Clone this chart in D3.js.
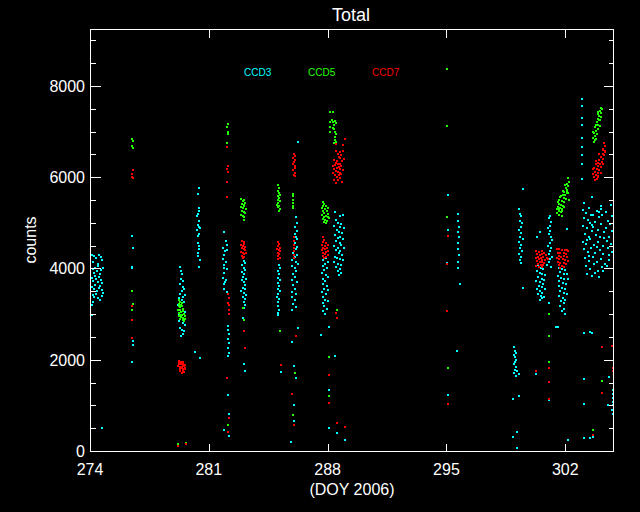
<!DOCTYPE html>
<html><head><meta charset="utf-8">
<script src="https://cdn.jsdelivr.net/npm/d3@7"></script>
<style>html,body{margin:0;padding:0;background:#000;}svg{display:block;}</style>
</head><body>
<script>
const title = "Total";
const xLabel = "(DOY 2006)";
const yLabel = "counts";
const xTicks = [274, 281, 288, 295, 302];
const yTicks = [0, 2000, 4000, 6000, 8000];
const yMinorTicks = [500,1000,1500,2500,3000,3500,4500,5000,5500,6500,7000,7500,8500,9000];
const seriesNames = ["CCD3", "CCD5", "CCD7"];
const seriesColors = ["#00ffff", "#22ff00", "#ff0000"];

// CCD3 (cyan)
const ccd3 = [
[274.12,4300],[274.18,4150],[274.25,4280],[274.35,4230],[274.45,4100],[274.55,4300],[274.62,4250],[274.70,4180],
[274.15,3980],[274.22,3900],[274.30,4020],[274.40,3950],[274.50,4050],[274.58,3880],[274.66,3960],[274.74,4000],
[274.12,3800],[274.20,3720],[274.28,3840],[274.36,3760],[274.46,3700],[274.54,3820],[274.64,3740],[274.72,3680],
[274.14,3600],[274.24,3550],[274.32,3640],[274.42,3500],[274.52,3580],[274.60,3620],[274.70,3520],[274.76,3460],
[274.16,3420],[274.26,3380],[274.38,3450],[274.48,3350],[274.58,3300],[274.68,3400],[274.20,3260],[274.10,3200],[274.10,2990],[274.71,515],
[276.5,4720],[276.55,4460],[276.5,4040],[276.5,4000],[276.55,2420],[276.55,2330],[276.5,1940],
[279.3,4030],[279.35,3950],[279.42,3880],[279.38,3780],[279.5,3720],[279.3,3650],[279.45,3600],[279.55,3560],[279.4,3500],[279.32,3440],
[279.5,3380],[279.58,3420],[279.25,3350],[279.42,3300],[279.55,3260],[279.2,3200],[279.3,3150],[279.48,3100],[279.58,3050],[279.22,2980],
[279.35,2950],[279.5,2900],[279.25,2840],[279.45,2800],[279.6,2760],[279.3,2700],[279.4,2660],[279.55,2620],[279.5,2570],[279.35,2530],
[280.19,2160],[280.48,2030],[279.18,120],
[280.4,5770],[280.35,5630],[280.45,5320],[280.4,5260],[280.38,5200],[280.3,5150],[280.45,5030],[280.35,4950],[280.4,4900],[280.5,4880],
[280.32,4850],[280.4,4760],[280.38,4720],[280.35,4560],[280.42,4500],[280.45,4420],[280.38,4350],[280.35,4270],[280.48,4180],[280.4,4030],
[281.9,4790],[282.0,4600],[282.05,4520],[281.85,4440],[281.95,4380],[282.08,4400],[281.9,4300],[281.85,4200],[282.0,4150],[281.92,4080],
[281.88,4000],[282.05,3980],[281.9,3900],[281.85,3800],[282.0,3750],[281.95,3700],[281.88,3650],[281.92,3550],[282.05,3480],
[282.15,2750],[282.15,2650],[282.2,2560],[282.15,2450],[282.2,2360],[282.15,2250],[282.2,2150],[282.15,2090],
[282.15,1220],[282.2,800],[281.9,450],[282.2,320],
[283.05,4170],[283.12,4120],[282.95,4080],[283.08,4020],[283.15,3960],[282.98,3920],[283.1,3880],[283.02,3820],[283.18,3780],[282.95,3740],
[283.08,3700],[283.12,3640],[283.0,3580],[283.15,3540],[282.92,3500],[283.08,3460],[283.18,3420],[283.0,3380],[283.12,3330],[283.05,3270],
[283.15,3200],[283.05,3140],[283.0,2920],[283.1,1900],[283.13,1750],
[285.12,4070],[285.2,4000],[285.05,3950],[285.15,3880],[285.1,3800],[285.22,3740],[285.05,3680],[285.15,3620],[285.08,3560],[285.2,3500],
[285.1,3440],[285.02,3380],[285.15,3330],[285.1,3260],[285.05,3180],[285.12,3100],[285.08,3030],[285.1,2970],[285.25,1730],
[286.15,5120],[286.2,5000],[286.1,4920],[286.18,4820],[286.05,4760],[286.15,4700],[286.22,4640],[286.1,4560],[286.2,4480],[286.12,4420],
[285.95,4340],[286.2,4300],[286.05,4250],[285.92,4180],[286.15,4150],[286.25,4100],[285.9,4050],[286.05,4000],[286.15,3950],[285.95,3880],
[286.1,3820],[285.9,3750],[286.2,3700],[285.98,3640],[286.05,3560],[285.88,3480],[286.15,3450],[285.92,3380],[286.05,3300],[285.95,3220],
[286.12,3150],[285.9,3080],
[286.25,6780],[286.25,2700],[285.9,2380],[286.0,1870],[286.15,1610],[286.0,1000],[286.02,650],[285.85,190],
[288.45,5230],[288.7,5150],[288.9,5180],[288.5,5060],[288.6,5000],[288.8,4980],[288.4,4940],[288.7,4900],[288.95,4880],[288.55,4840],
[288.65,4800],[288.85,4780],[288.45,4740],[288.75,4700],[288.6,4660],[288.9,4640],[288.5,4600],[288.7,4560],[288.8,4520],[288.4,4500],
[288.6,4460],[288.95,4440],[288.5,4400],[288.75,4380],[288.65,4340],[288.85,4300],[288.45,4260],[288.55,4220],[288.7,4200],[288.9,4180],
[288.4,4140],[288.6,4100],[288.8,4080],[288.5,4040],[288.7,3990],[288.6,3940],[288.8,3900],[288.65,3860],
[287.9,4240],[287.75,4180],[288.0,4150],[287.85,4100],[287.7,4050],[287.95,4000],[287.8,3960],[287.65,3900],[287.9,3860],[288.05,3820],
[287.75,3780],[287.85,3720],[287.7,3660],[287.95,3620],[287.8,3560],[288.0,3520],[287.68,3480],[287.9,3440],[287.75,3380],[287.85,3320],
[288.0,3280],[287.7,3240],[287.8,3180],[287.95,3120],[287.75,3060],[287.85,3010],
[288.1,2710],[287.6,2540],[288.45,2080],[288.1,1330],[288.1,500],[288.55,390],[289.0,240],
[295.09,5600],[295.09,4850],[295.03,4110],[295.68,5200],[295.7,5050],[295.72,4920],[295.68,4800],[295.72,4680],[295.7,4560],[295.68,4420],
[295.72,4300],[295.7,4150],[295.68,4020],[295.8,3670],[295.62,2200],[295.09,1220],
[299.3,5310],[299.35,5200],[299.4,5150],[299.32,5050],[299.45,5000],[299.38,4920],[299.3,4850],[299.42,4780],[299.35,4700],[299.48,4650],
[299.3,4580],[299.4,4520],[299.35,4440],[299.45,4380],[299.3,4320],[299.4,4250],[299.35,4180],[299.42,4130],[299.5,5750],[299.5,3580],
[299.0,2270],[299.05,2200],[299.1,2150],[298.95,2100],[299.02,2050],[299.12,2000],[299.05,1950],[298.98,1900],[299.1,1850],[299.05,1780],
[299.15,1750],[298.95,1700],[299.08,1650],[299.25,1680],[298.92,1150],[299.3,1200],[299.15,410],[298.92,300],[299.15,60],
[300.4,4080],[300.55,4000],[300.7,3980],[300.35,3950],[300.5,3900],[300.65,3880],[300.8,3860],[300.4,3820],[300.6,3780],[300.75,3750],
[300.3,3720],[300.5,3700],[300.7,3660],[300.45,3620],[300.6,3590],[300.35,3560],[300.8,3540],[300.5,3500],[300.65,3460],[300.4,3440],
[300.55,3400],[300.75,3380],[300.6,3350],[300.5,3300],
[301.1,5160],[301.05,5100],[301.15,5020],[301.1,4940],[301.0,4880],[301.12,4820],[301.05,4750],[301.15,4690],[301.2,4620],[301.08,4560],
[301.0,4500],[301.15,4440],[301.1,4380],[301.02,4320],[301.2,4260],[301.12,4200],[301.05,4140],[300.95,4080],[301.15,4040],[300.5,4810],[300.35,4680],
[301.05,3250],[301.05,1110],[300.3,1680],
[301.6,4020],[301.8,3990],[302.0,3960],[301.7,3920],[301.9,3890],[302.1,3870],[301.55,3840],[301.75,3800],[301.95,3780],[302.15,3760],
[301.65,3720],[301.85,3690],[302.05,3660],[301.6,3620],[301.8,3580],[302.0,3550],[301.7,3500],[301.9,3470],[302.1,3440],[301.65,3400],
[301.85,3360],[302.0,3320],[301.75,3280],[301.95,3240],[301.7,3180],[301.9,3120],[301.8,3060],[302.0,3010],
[302.1,4870],[301.45,2710],[301.55,2720],
[302.98,7720],[302.98,7560],[302.98,7300],[302.98,7140],[302.98,6860],[302.98,6660],[302.98,6480],[302.98,6300],[303.0,5970],[303.55,5560],[303.1,5440],[304.1,5310],
[303.05,5290],[303.22,5210],[303.38,5330],[303.62,5170],[303.88,5260],[304.12,5370],[304.42,5240],[304.68,5400],
[303.12,5100],[303.33,5060],[303.52,5170],[303.74,5020],[303.97,5120],[304.18,5180],[304.52,5050],[304.74,5140],
[303.02,4930],[303.27,4880],[303.43,4990],[303.66,4900],[303.92,4850],[304.13,4970],[304.37,4890],[304.62,4980],
[303.16,4760],[303.37,4700],[303.57,4820],[303.78,4730],[304.07,4680],[304.28,4790],[304.56,4700],[304.77,4820],
[303.06,4590],[303.24,4530],[303.47,4640],[303.71,4520],[303.93,4590],[304.22,4500],[304.44,4610],[304.71,4530],
[303.09,4430],[303.31,4360],[303.49,4450],[303.76,4340],[304.02,4410],[304.24,4320],[304.51,4440],[304.73,4360],
[303.17,4230],[303.39,4170],[303.61,4260],[303.86,4140],[304.09,4210],[304.36,4100],[304.58,4190],
[303.21,4060],[303.46,3990],[303.69,4090],[303.91,3950],[304.16,4030],[304.46,4060],
[303.29,3870],[303.56,3830],[303.77,3910],[304.01,3810],
[303.3,4630],[303.85,4480],[304.3,4660],[303.6,4950],[304.0,5230],[304.6,4300],[303.4,4280],[304.2,3950],
[303.6,2580],[303.45,2600],[303.1,2580],[303.1,1580],[304.6,1620],[303.1,1020],[304.5,1000],[303.45,280],[303.65,300],[302.15,250],[303.1,280],
[304.8,1330],[304.8,1250],[304.8,1170],[304.8,1080],[304.8,1000],[304.78,900],[304.8,800]
];

// CCD5 (green)
const ccd5 = [
[276.5,6840],[276.55,6800],[276.5,6680],[276.55,6640],[276.5,3510],[276.55,3230],[276.5,3100],
[279.25,3300],[279.3,3260],[279.22,3220],[279.35,3200],[279.28,3150],[279.42,3170],[279.2,3100],[279.32,3080],[279.45,3120],[279.38,3040],
[279.25,3020],[279.5,3060],[279.3,2990],[279.42,2980],[279.55,3000],[279.22,2950],[279.35,2940],[279.48,2920],[279.6,2960],[279.3,2900],
[279.45,2880],[279.58,2890],[279.27,3180],[279.4,3240],[279.52,2850],[279.18,150],[279.65,180],
[282.15,7170],[282.1,7100],[282.15,7000],[282.12,6950],[282.1,6760],[282.15,560],
[282.92,5520],[283.0,5480],[283.08,5500],[282.95,5420],[283.05,5400],[283.15,5440],[282.9,5350],[283.0,5330],[283.1,5360],[283.18,5300],
[282.95,5260],[283.05,5240],[283.12,5220],[282.92,5180],[283.02,5150],[283.1,5130],[283.05,5060],[283.0,3140],[283.08,2880],
[285.1,5820],[285.15,5760],[285.05,5700],[285.12,5660],[285.2,5620],[285.08,5580],[285.15,5540],[285.05,5500],[285.2,5480],[285.1,5440],
[285.02,5400],[285.15,5380],[285.08,5340],[285.2,5300],[285.12,5270],[285.2,2640],
[285.95,5640],[285.98,5580],[285.95,5500],[285.98,5430],[285.95,5380],[285.98,5330],[286.05,1720],[285.98,780],
[288.3,7420],[288.25,7250],[288.3,7200],[288.35,7150],[288.3,7080],[288.45,7240],[288.5,7180],[288.4,7050],[288.45,7000],[288.5,6940],
[288.45,6880],[288.42,6820],[288.5,6780],[288.4,6740],[288.15,7420],[288.15,7200],[288.15,7100],[288.15,7000],
[287.7,5450],[287.8,5420],[287.75,5380],[287.9,5360],[287.65,5320],[287.85,5300],[288.0,5320],[287.72,5260],[287.95,5250],[287.8,5220],
[288.05,5200],[287.68,5180],[287.9,5160],[287.78,5130],[288.0,5120],[287.7,5090],[287.85,5070],[287.95,5050],[287.8,5020],[287.9,5000],[288.08,5100],
[288.55,3100],[288.1,2050],[288.1,1200],
[295.03,8380],[295.03,7120],[295.03,5120],[295.09,1830],
[301.05,3010],[301.05,2510],[301.05,1960],
[302.15,5990],[302.2,5900],[302.1,5850],[302.18,5800],[302.05,5760],[302.12,5720],[301.95,5680],[302.08,5650],[301.85,5620],[302.0,5600],
[301.75,5580],[301.9,5550],[302.05,5520],[301.65,5500],[301.8,5480],[301.95,5460],[301.6,5420],[301.72,5400],[301.88,5380],[301.55,5350],
[301.7,5320],[301.82,5300],[301.6,5260],[301.75,5240],[301.5,5220],[301.65,5180],[301.78,5160],[302.2,5500],
[301.55,5450],[301.7,5560],[301.85,5700],[302.0,5820],[302.1,5700],[301.95,5350],[301.8,5260],[301.6,5300],[302.15,5650],[301.5,5300],
[304.1,7520],[304.05,7450],[304.12,7400],[303.95,7380],[304.08,7320],[303.9,7280],[304.0,7250],[303.85,7200],[303.95,7150],[304.05,7120],
[303.75,7100],[303.9,7060],[303.8,7020],[303.7,6980],[303.85,6950],[303.75,6900],[303.65,6860],[303.8,6830],[303.7,6780],[303.9,7420],
[303.65,7000],[303.8,7150],[304.0,7350],[304.15,7500],[303.75,6820],[303.95,7050],[304.05,7250],
[304.15,1540],[303.65,450]
];

// CCD7 (red)
const ccd7 = [
[276.55,6150],[276.5,6070],[276.5,6000],[276.55,5980],[276.5,3170],[276.5,2880],[276.5,2480],
[279.22,1970],[279.3,1950],[279.4,1960],[279.5,1930],[279.25,1900],[279.35,1910],[279.45,1890],[279.58,1880],[279.2,1860],[279.3,1850],
[279.42,1840],[279.52,1860],[279.62,1830],[279.28,1800],[279.38,1810],[279.5,1790],[279.6,1800],[279.3,1760],[279.45,1750],[279.55,1730],
[279.4,1720],[279.26,1940],[279.48,1950],[279.18,100],[279.66,160],
[282.1,6670],[282.12,6250],[282.1,6180],[282.12,6120],[282.1,5900],[282.1,5560],[282.15,3450],[282.2,3350],[282.15,3250],[282.2,3200],
[282.18,3100],[282.2,3010],[282.1,1610],[282.2,720],[282.15,410],
[282.95,4600],[283.05,4580],[282.9,4520],[283.0,4500],[283.1,4530],[283.15,4470],[282.95,4440],[283.05,4420],[283.12,4400],[282.92,4360],
[283.0,4340],[283.08,4320],[283.18,4350],[282.98,4280],[283.1,4260],[283.02,4220],[283.1,2620],[283.15,2250],
[285.05,4570],[285.12,4540],[285.08,4490],[285.18,4460],[285.02,4430],[285.12,4400],[285.2,4380],[285.05,4340],[285.15,4310],[285.1,4270],
[285.2,4240],[285.08,4210],[285.25,1880],
[286.0,6520],[286.05,6470],[285.98,6420],[286.08,6380],[286.02,6330],[285.95,6280],[286.05,6240],[286.1,6200],[285.98,6150],[286.05,6100],
[286.0,6050],[286.08,6020],
[286.02,4680],[286.0,4600],[286.02,4520],[286.0,4450],[286.02,4380],[286.0,4300],[286.02,4220],
[286.15,2510],[285.9,1240],[286.02,580],
[288.5,6580],[288.7,6550],[288.6,6500],[288.8,6480],[288.65,6440],[288.75,6420],[288.4,6380],[288.55,6360],[288.85,6350],[288.5,6320],
[288.7,6300],[288.6,6280],[288.45,6260],[288.8,6250],[288.65,6220],[288.55,6200],[288.75,6190],[288.4,6170],[288.9,6160],[288.5,6140],
[288.6,6120],[288.7,6100],[288.8,6080],[288.45,6060],[288.65,6040],[288.55,6000],[288.75,5980],[288.4,5950],[288.6,5930],[288.85,5900],
[288.5,5880],[288.3,6240],[288.3,6100],[288.95,6400],[288.9,6580],[289.0,6830],[288.5,6720],[288.9,6700],
[287.7,4680],[287.8,4620],[287.72,4580],[287.9,4560],[287.65,4520],[287.85,4500],[288.0,4520],[287.75,4460],[287.95,4450],[287.82,4420],
[287.68,4400],[288.05,4390],[287.9,4360],[287.75,4340],[287.85,4310],[288.0,4300],[287.7,4280],[287.9,4260],[287.8,4240],
[288.55,2920],[288.5,3030],[288.1,1670],[288.1,1050],[288.55,610],[289.0,520],
[295.09,4720],[295.03,4100],[295.03,3060],[295.09,1020],
[300.3,4380],[300.45,4360],[300.6,4390],[300.75,4350],[300.35,4320],[300.5,4300],[300.65,4310],[300.85,4290],[300.4,4260],[300.55,4240],
[300.7,4250],[300.3,4220],[300.9,4230],[300.45,4200],[300.6,4190],[300.8,4180],[300.35,4160],[300.5,4140],[300.65,4150],[300.75,4120],
[300.4,4100],[300.55,4080],[300.7,4070],[300.45,4040],[300.6,4030],[300.3,4060],[301.0,4200],
[301.05,1810],[301.05,1520],[301.05,1150],[300.3,1760],
[301.5,4420],[301.65,4430],[301.8,4400],[302.0,4410],[302.15,4380],[301.55,4350],[301.7,4330],[301.9,4340],[302.05,4320],[301.6,4280],
[301.75,4260],[301.95,4270],[302.1,4250],[301.5,4220],[301.65,4200],[301.85,4210],[302.0,4190],[302.18,4170],[301.55,4150],[301.7,4130],
[301.9,4120],[302.05,4100],[301.6,4080],[301.8,4060],[301.95,4040],[301.7,4020],[302.12,4400],
[304.3,6740],[304.35,6680],[304.25,6620],[304.32,6560],[304.2,6520],[304.3,6480],[304.1,6440],[304.22,6400],[304.0,6380],[304.15,6340],
[303.9,6320],[304.05,6290],[303.8,6280],[303.95,6240],[304.1,6220],[303.7,6200],[303.85,6180],[304.0,6160],[303.75,6120],[303.9,6100],
[303.65,6080],[303.8,6050],[303.95,6030],[303.7,6000],[303.85,5970],[303.75,5930],[304.2,6300],
[303.65,6180],[303.8,6350],[304.0,6500],[304.2,6600],[304.35,6580],[303.9,6000],[304.1,6100],
[304.15,2270],[304.75,2310],[304.82,1830],[304.82,1750],[304.15,1280],[303.65,360]
];

const series = [ccd3, ccd5, ccd7];

const W = 640, H = 512;
const svg = d3.select("body").append("svg").attr("width", W).attr("height", H)
  .style("background", "#000");
svg.append("rect").attr("width", W).attr("height", H).attr("fill", "#000");

const x = d3.scaleLinear().domain([274, 304.84]).range([90, 613.5]);
const y = d3.scaleLinear().domain([0, 9238]).range([451, 29.5]);

const font = "'Liberation Sans', Arial, sans-serif";

// points
series.forEach((data, i) => {
  svg.append("g").selectAll("rect").data(data).enter().append("rect")
    .attr("x", d => Math.round(x(d[0])) - 1)
    .attr("y", d => Math.round(y(d[1])) - 1)
    .attr("width", 2).attr("height", 2)
    .attr("fill", seriesColors[i])
    .attr("shape-rendering", "crispEdges");
});

// frame
const gAx = svg.append("g").attr("stroke", "#fff").attr("stroke-width", 1).attr("shape-rendering", "crispEdges").attr("fill", "none");
const L = 90.5, R = 613.5, T = 29.5, B = 451.5;
gAx.append("rect").attr("x", L).attr("y", T).attr("width", R - L).attr("height", B - T);

// x ticks
xTicks.forEach(t => {
  const px = Math.round(x(t)) + 0.5;
  gAx.append("line").attr("x1", px).attr("x2", px).attr("y1", B).attr("y2", B - 8);
  gAx.append("line").attr("x1", px).attr("x2", px).attr("y1", T).attr("y2", T + 8);
});
// y ticks
yTicks.forEach(t => {
  const py = Math.round(y(t)) + 0.5;
  gAx.append("line").attr("x1", L).attr("x2", L + 10).attr("y1", py).attr("y2", py);
  gAx.append("line").attr("x1", R).attr("x2", R - 10).attr("y1", py).attr("y2", py);
});
yMinorTicks.forEach(t => {
  const py = Math.round(y(t)) + 0.5;
  gAx.append("line").attr("x1", L).attr("x2", L + 5).attr("y1", py).attr("y2", py);
  gAx.append("line").attr("x1", R).attr("x2", R - 5).attr("y1", py).attr("y2", py);
});

// tick labels
svg.append("g").selectAll("text").data(xTicks).enter().append("text")
  .attr("x", d => x(d)).attr("y", 475)
  .attr("text-anchor", "middle").attr("fill", "#fff")
  .style("font-family", font).style("font-size", "16px")
  .text(d => d);
svg.append("g").selectAll("text").data(yTicks).enter().append("text")
  .attr("x", 85).attr("y", d => y(d) + 6)
  .attr("text-anchor", "end").attr("fill", "#fff")
  .style("font-family", font).style("font-size", "16px")
  .text(d => d);

// titles
svg.append("text").attr("x", 351).attr("y", 21).attr("text-anchor", "middle")
  .attr("fill", "#fff").style("font-family", font).style("font-size", "18px").text(title);
svg.append("text").attr("x", 352).attr("y", 495).attr("text-anchor", "middle")
  .attr("fill", "#fff").style("font-family", font).style("font-size", "16px").text(xLabel);
svg.append("text").attr("transform", "translate(36,240) rotate(-90)").attr("text-anchor", "middle")
  .attr("fill", "#fff").style("font-family", font).style("font-size", "16px").text(yLabel);

// legend
const legendX = [244, 308, 372];
seriesNames.forEach((n, i) => {
  svg.append("text").attr("x", legendX[i]).attr("y", 76)
    .attr("fill", seriesColors[i]).style("font-family", font).style("font-size", "10px").text(n);
});
</script>
</body></html>
